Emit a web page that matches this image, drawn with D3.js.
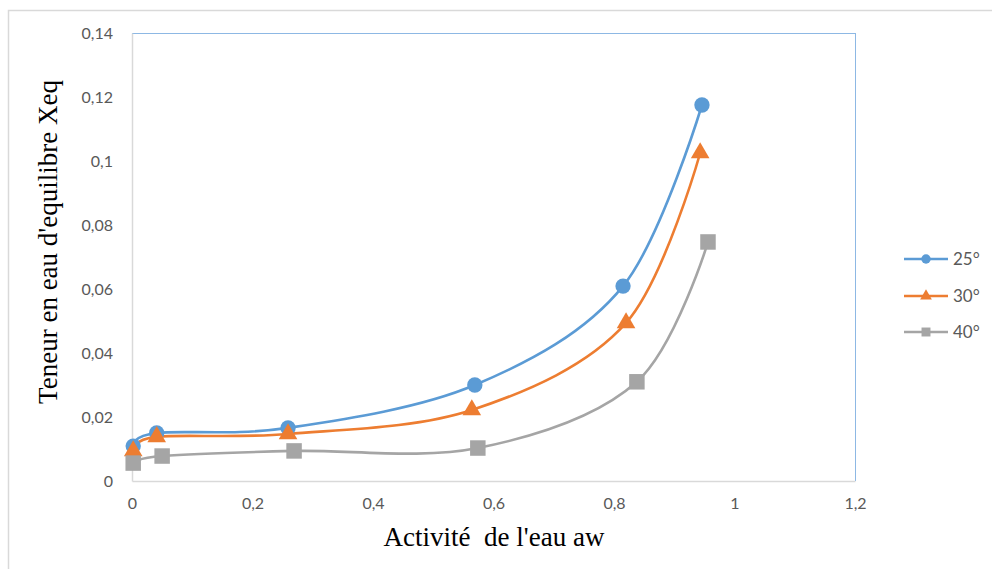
<!DOCTYPE html>
<html><head><meta charset="utf-8">
<script src="https://cdn.jsdelivr.net/npm/d3@7"></script>
<style>html,body{margin:0;padding:0;background:#fff;overflow:hidden}</style>
</head><body>
<svg id="c" width="992" height="569"></svg>
<script>
const seriesNames = ["25°", "30°", "40°"];
const aw25 = [0.002, 0.041, 0.259, 0.569, 0.815, 0.946];
const x25  = [0.0109, 0.0150, 0.0166, 0.0300, 0.0609, 0.1175];
const aw30 = [0.002, 0.041, 0.259, 0.564, 0.820, 0.943];
const x30  = [0.0094, 0.0138, 0.0147, 0.0222, 0.0494, 0.1025];
const aw40 = [0.002, 0.050, 0.269, 0.574, 0.838, 0.956];
const x40  = [0.0056, 0.0078, 0.0094, 0.0103, 0.0310, 0.0747];
const xTicks = [0, 0.2, 0.4, 0.6, 0.8, 1, 1.2];
const yTicks = [0, 0.02, 0.04, 0.06, 0.08, 0.1, 0.12, 0.14];
const colors = ["#5b9bd5", "#ed7d31", "#a5a5a5"];
const shapes = [d3.symbolCircle, d3.symbolTriangle, d3.symbolSquare];

const series = [
  {name: seriesNames[0], pts: aw25.map((a,i)=>[a, x25[i]])},
  {name: seriesNames[1], pts: aw30.map((a,i)=>[a, x30[i]])},
  {name: seriesNames[2], pts: aw40.map((a,i)=>[a, x40[i]])}
];

const svg = d3.select("#c");
const L = 132, R = 855, T = 33, B = 481;
const x = d3.scaleLinear().domain([0, 1.2]).range([L, R]);
const y = d3.scaleLinear().domain([0, 0.14]).range([B, T]);
const fmt = d => String(+d.toFixed(2)).replace(".", ",");

// chart border
svg.append("rect").attr("x", 8.5).attr("y", 10.5).attr("width", 1000).attr("height", 600)
  .attr("fill", "none").attr("stroke", "#d9d9d9").attr("stroke-width", 1.5);

// plot area border
svg.append("line").attr("x1", L).attr("x2", R).attr("y1", T+0.5).attr("y2", T+0.5).attr("stroke", "#8db8e4").attr("stroke-width", 1);
svg.append("line").attr("x1", R+0.5).attr("x2", R+0.5).attr("y1", T).attr("y2", B).attr("stroke", "#8db8e4").attr("stroke-width", 1);

// axes
const xAxis = svg.append("g").attr("transform", `translate(0,${B})`)
  .call(d3.axisBottom(x).tickValues(xTicks).tickFormat(fmt).tickSize(0).tickPadding(17));
const yAxis = svg.append("g").attr("transform", `translate(${L},0)`)
  .call(d3.axisLeft(y).tickValues(yTicks).tickFormat(fmt).tickSize(0).tickPadding(19));
[xAxis, yAxis].forEach(g => {
  g.select(".domain").attr("stroke", "#d9d9d9").attr("stroke-width", 1.5);
  g.selectAll("text").attr("fill", "#595959").style("font-family", "Lato, 'Open Sans', sans-serif").style("font-size", "16px");
});

// curves
const line = d3.line().x(d => x(d[0])).y(d => y(d[1])).curve(d3.curveCatmullRom.alpha(0));
series.forEach((s, i) => {
  svg.append("path").attr("d", line(s.pts)).attr("fill", "none")
    .attr("stroke", colors[i]).attr("stroke-width", 2.6).attr("stroke-linecap", "round");
});
const sizes = [185, 150, 240];
series.forEach((s, i) => {
  svg.append("g").selectAll("path").data(s.pts).join("path")
    .attr("transform", d => `translate(${x(d[0])},${y(d[1])})`)
    .attr("d", d3.symbol().type(shapes[i]).size(sizes[i]))
    .attr("fill", colors[i]);
});

// axis titles
svg.append("text").attr("x", 494).attr("y", 546).attr("text-anchor", "middle")
  .style("white-space", "pre").attr("xml:space", "preserve")
  .style("font-family", "'Liberation Serif', 'Times New Roman', serif").style("font-size", "27px").attr("fill", "#000")
  .text("Activité  de l'eau aw");
svg.append("text").attr("transform", "translate(57,242) rotate(-90)").attr("text-anchor", "middle")
  .style("font-family", "'Liberation Serif', 'Times New Roman', serif").style("font-size", "27px").attr("fill", "#000")
  .text("Teneur en eau d'equilibre Xeq");

// legend
const legY = [259, 296, 332];
const lsz = [70, 60, 80];
series.forEach((s, i) => {
  const g = svg.append("g").attr("transform", `translate(0,${legY[i]})`);
  g.append("line").attr("x1", 904).attr("x2", 948).attr("stroke", colors[i]).attr("stroke-width", 2.6);
  g.append("path").attr("transform", "translate(926,0)").attr("d", d3.symbol().type(shapes[i]).size(lsz[i])).attr("fill", colors[i]);
  g.append("text").attr("x", 953).attr("dy", "0.35em").attr("fill", "#595959")
    .style("font-family", "Lato, 'Open Sans', sans-serif").style("font-size", "17px").text(s.name);
});
</script>
</body></html>
